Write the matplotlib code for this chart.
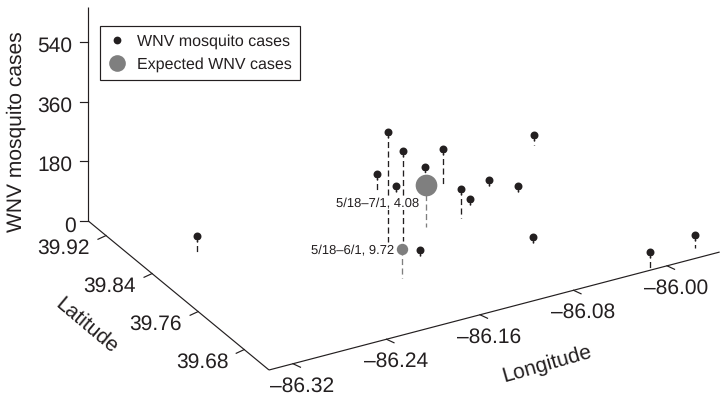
import numpy as np
import matplotlib
matplotlib.use("Agg")
import matplotlib.pyplot as plt
from matplotlib.lines import Line2D
from matplotlib.path import Path

plt.rcParams['font.family'] = ['Liberation Sans', 'DejaVu Sans']
plt.rcParams['text.hinting'] = 'no_hinting'
plt.rcParams['text.hinting_factor'] = 1

# Data
mosq_lon = [-86.162, -86.152, -86.129, -86.118, -86.083, -86.083, -86.096, -86.082,
            -86.054, -86.040, -85.991, -86.071, -86.154, -86.295, -86.013, -85.968]
mosq_lat = [39.792, 39.787, 39.878, 39.868, 39.888, 39.857, 39.800, 39.812,
            39.836, 39.814, 39.886, 39.725, 39.753, 39.854, 39.641, 39.653]
mosq_cases = [331, 273, 52, 19, 14, 113, 88, 26, 24, 25, 30, 26, 23, 51, 49, 40]

exp_lon = [-86.1815, -86.126]
exp_lat = [39.729, 39.800]
exp_cases = [88, 128]
exp_labels = ['5/18–6/1, 9.72', '5/18–7/1, 4.08']
exp_values = [9.72, 4.08]

lon_ticks = [-86.32, -86.24, -86.16, -86.08, -86.00]
lat_ticks = [39.92, 39.84, 39.76, 39.68]
z_ticks = [0, 180, 360, 540]
lon_labels = ['–86.32', '–86.24', '–86.16', '–86.08', '–86.00']
lat_labels = ['39.92', '39.84', '39.76', '39.68']
z_labels = ['0', '180', '360', '540']

LON_MIN, LON_MAX = -86.3405, -85.955
LAT_MIN, LAT_MAX = 39.637, 39.951
Z_MAX = 648

# Oblique projection onto the figure's pixel plane
def proj(lon, lat, z=0.0):
    a = np.asarray(lon, float) - LON_MIN
    b = np.asarray(lat, float) - LAT_MIN
    z = np.asarray(z, float)
    return 269 + 1169 * a - 576 * b, 370 - 306 * a - 475 * b - 0.3306 * z

INK = '#231f20'
GREY = '#7f7f7f'

fig = plt.figure(figsize=(7.22, 4.01), dpi=100)
ax = fig.add_axes([0, 0, 1, 1])
ax.set_xlim(0, 722)
ax.set_ylim(401, 0)
ax.axis('off')

# Axes frame
for p, q in [((LON_MIN, LAT_MAX, 0), (LON_MIN, LAT_MAX, Z_MAX)),
             ((LON_MIN, LAT_MAX, 0), (LON_MIN, LAT_MIN, 0)),
             ((LON_MIN, LAT_MIN, 0), (LON_MAX, LAT_MIN, 0))]:
    x0, y0 = proj(*p)
    x1, y1 = proj(*q)
    ax.plot([x0, x1], [y0, y1], color=INK, lw=0.85, solid_capstyle='butt', zorder=2)

FS = 15
for v, s in zip(z_ticks, z_labels):
    x, y = proj(LON_MIN, LAT_MAX, v)
    ax.plot([x - 8.5, x], [y, y], color=INK, lw=0.85, zorder=2)
    ax.text(x - (12 if v == 0 else 16), y + (6 if v == 0 else 4.5), s, ha='right', va='center',
            fontsize=FS, color=INK)
for v, s in zip(lat_ticks, lat_labels):
    x, y = proj(LON_MIN, v, 0)
    ax.plot([x - 8, x], [y + 3.7, y], color=INK, lw=0.85, zorder=2)
    ax.text(x - 16, y + 13, s, ha='right', va='center', fontsize=FS, color=INK)
for v, s in zip(lon_ticks, lon_labels):
    x, y = proj(v, LAT_MIN, 0)
    ax.plot([x, x + 7.5], [y, y + 3.5], color=INK, lw=0.85, zorder=2)
    ax.text(x + 9.5, y + 22.5, s, ha='center', va='center', fontsize=FS, color=INK)

ax.text(16.5, 132, 'WNV mosquito cases', rotation=90, ha='center', va='center', fontsize=FS, color=INK)
ax.text(86.5, 326, 'Latitude', rotation=-40, ha='center', va='center', fontsize=FS, color=INK,
        rotation_mode='anchor')
ax.text(546.5, 364, 'Longitude', rotation=16, ha='center', va='center', fontsize=FS, color=INK,
        rotation_mode='anchor')

# Stems
dash = (0, (4.6, 2.6))
for lo, la, c in zip(mosq_lon, mosq_lat, mosq_cases):
    xt, yt = proj(lo, la, c)
    xb, yb = proj(lo, la, 0)
    ax.plot([xt, xb], [yt, yb], color=INK, lw=0.95, ls=dash, dash_capstyle='butt', zorder=3)
for lo, la, c in zip(exp_lon, exp_lat, exp_cases):
    xt, yt = proj(lo, la, c)
    xb, yb = proj(lo, la, 0)
    ax.plot([xt, xb], [yt, yb], color=GREY, lw=0.95, ls=dash, dash_capstyle='butt', zorder=3)

# Teardrop marker: circle with a short point below
t = np.linspace(np.pi * 1.36, np.pi * 3.64, 40)
vx = np.concatenate([np.cos(t), [0.0]])
vy = np.concatenate([np.sin(t), [-1.5]])
drop = Path(np.column_stack([vx, vy]))
mx, my = proj(mosq_lon, mosq_lat, mosq_cases)
ax.plot(mx, my, ls='none', marker=drop, ms=8.6, mfc=INK, mec='none', zorder=5)

# Expected cases: larger circle for smaller value
ex, ey = proj(exp_lon, exp_lat, exp_cases)
ax.plot(ex[0], ey[0], ls='none', marker='o', ms=8.2, mfc=GREY, mec='none', zorder=5)
ax.plot(ex[1], ey[1], ls='none', marker='o', ms=15.6, mfc=GREY, mec='none', zorder=5)

ax.text(ex[0] - 7.5, ey[0] + 2.4, exp_labels[0], ha='right', va='center', fontsize=9.6, color=INK, zorder=6)
ax.text(ex[1] - 6.7, ey[1] + 19, exp_labels[1], ha='right', va='center', fontsize=9.6, color=INK, zorder=4,
        bbox=dict(fc='white', ec='none', pad=0.6))

handles = [Line2D([], [], ls='none', marker='o', ms=5.6, mfc=INK, mec='none'),
           Line2D([], [], ls='none', marker='o', ms=12, mfc=GREY, mec='none')]
leg = ax.legend(handles, ['WNV mosquito cases', 'Expected WNV cases'],
                loc='upper left', bbox_to_anchor=(100 / 722, 1 - 26 / 401), borderaxespad=0,
                fontsize=11.45, fancybox=False, framealpha=1, edgecolor=INK,
                borderpad=0.5, handlelength=1.15, handletextpad=0.68, labelspacing=0.52,
                labelcolor=INK)
leg.get_frame().set_linewidth(0.85)

fig.savefig('out.png', dpi=100)
